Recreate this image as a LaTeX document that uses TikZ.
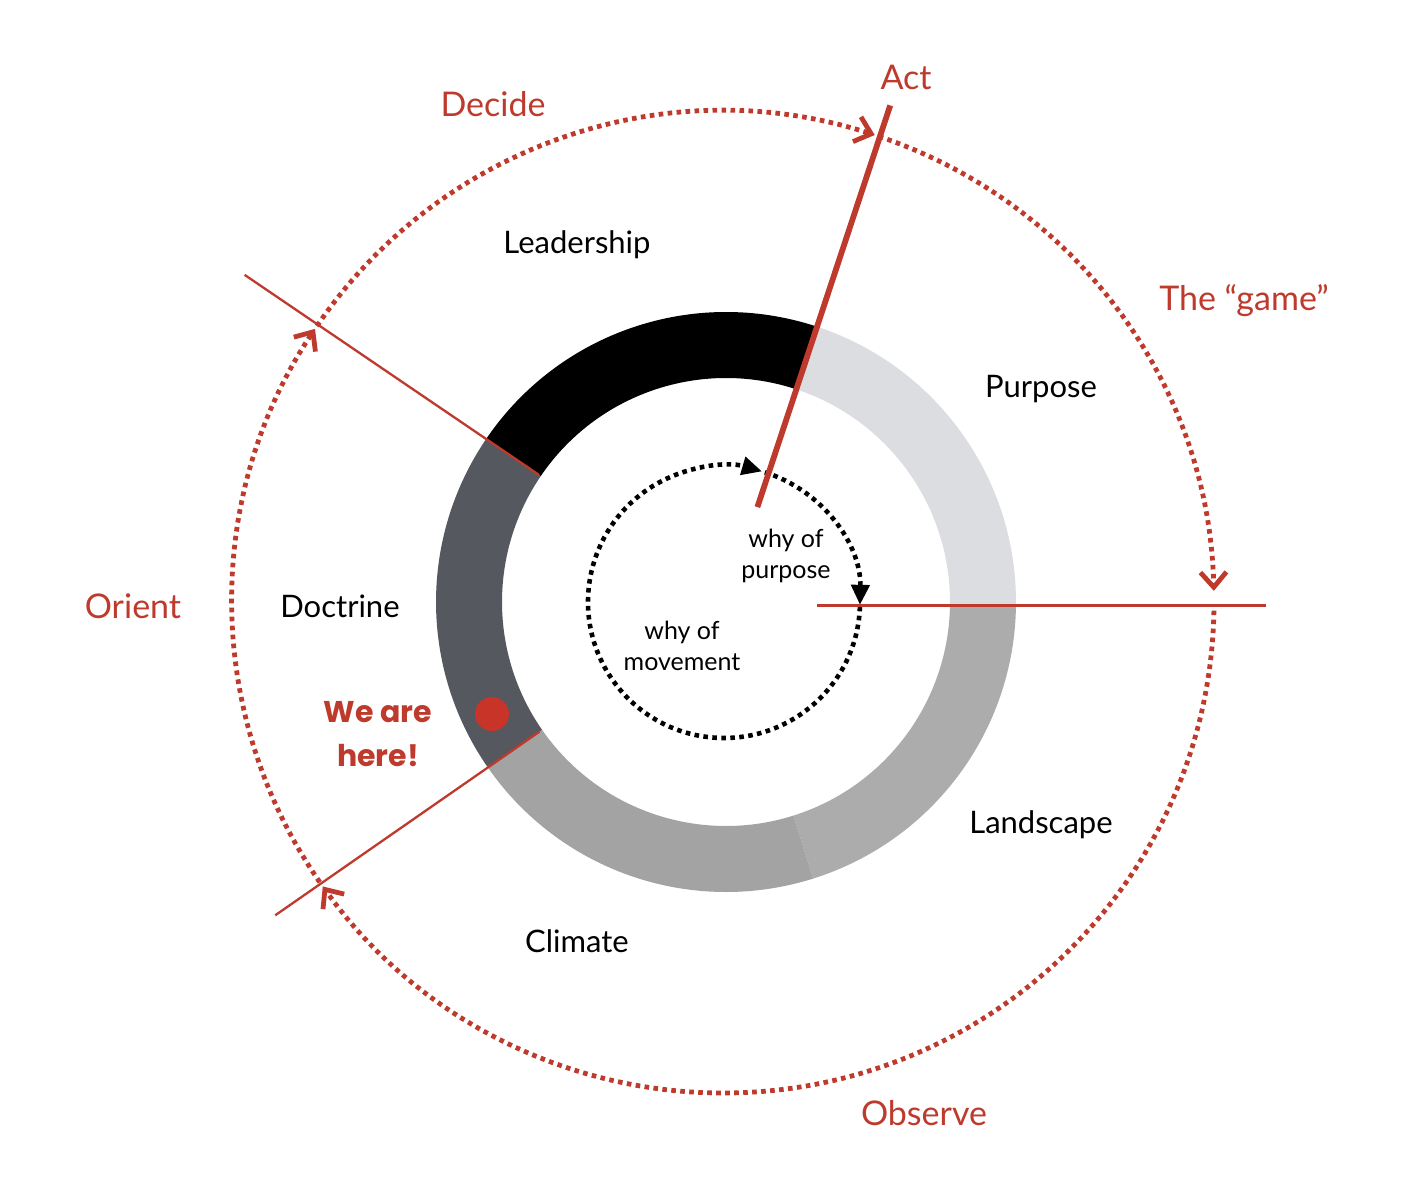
\documentclass[tikz,border=0pt]{standalone}
\usepackage{fontspec}
\setmainfont{Lato}
\newfontfamily\comicfont{Poppins}
\usetikzlibrary{arrows.meta}
\definecolor{rred}{RGB}{190,58,45}
\definecolor{dotred}{RGB}{200,52,40}
\definecolor{cpurpose}{RGB}{220,221,224}
\definecolor{clandscape}{RGB}{172,172,172}
\definecolor{cclimate}{RGB}{163,163,163}
\definecolor{cdoctrine}{RGB}{85,88,94}
\newcommand\ringseg[3]{\fill[#3] (#1:290) arc[start angle=#1,end angle=#2,radius=290] -- (#2:224) arc[start angle=#2,end angle=#1,radius=224] -- cycle;}
\begin{document}
\begin{tikzpicture}[x=0.5pt,y=0.5pt,
  redlbl/.style={text=rred, font=\fontsize{17}{20}\selectfont, inner sep=0pt},
  blklbl/.style={text=black, font=\fontsize{15.5}{18}\selectfont, inner sep=0pt},
  smalllbl/.style={text=black, font=\fontsize{12.5}{15.5}\selectfont, align=center, inner sep=0pt},
  herelbl/.style={text=rred, font=\comicfont\bfseries\fontsize{15}{22}\selectfont, align=center, inner sep=0pt},
  outerdots/.style={draw=rred, line width=2.4pt, dash pattern=on 2.3pt off 2.2pt, -{Straight Barb[length=7.5pt,width=13pt,line width=2.4pt]}},
  innerdots/.style={draw=black, line width=2.3pt, dash pattern=on 2.3pt off 2.2pt, -{Triangle[length=10pt,width=9pt]}},
  thinred/.style={draw=rred, line width=1.15pt},
  actline/.style={draw=rred, line width=2.9pt},
]
\useasboundingbox (-726,-586) rectangle (692,602);
% ring segments
\ringseg{71.7}{145.8}{black}
\ringseg{-0.7}{71.7}{cpurpose}
\ringseg{-72.5}{-0.7}{clandscape}
\ringseg{-145.2}{-72.5}{cclimate}
\ringseg{145.8}{214.8}{cdoctrine}
% outer dotted cycle
\draw[outerdots] ([shift={(-3,0)}]214.8:491) arc[start angle=214.8,end angle=146.2,radius=491];
\draw[outerdots] ([shift={(-3,0)}]145.8:491) arc[start angle=145.8,end angle=72.0,radius=491];
\draw[outerdots] ([shift={(-3,0)}]71.5:491) arc[start angle=71.5,end angle=1.3,radius=491];
\draw[outerdots] ([shift={(-3,0)}]-1:491) arc[start angle=-1,end angle=-144.6,radius=491];
% inner dotted cycle
\draw[innerdots] ([shift={(-2,0)}]72.5:136) arc[start angle=72.5,end angle=-1.2,radius=136];
\draw[innerdots] ([shift={(-2,0)}]-2:136) arc[start angle=-2,end angle=-286.2,radius=136];
% lines
\coordinate (l1a) at (145.8:226);
\coordinate (l1b) at (145.8:582);
\coordinate (l2a) at (-145.2:227);
\coordinate (l2b) at (-145.2:549);
\coordinate (acta) at (71.7:100);
\coordinate (actb) at (71.7:523);
\coordinate (ha) at (91,-3.5);
\coordinate (hb) at (540,-3.5);
\draw[thinred] (l1a) -- (l1b);
\draw[thinred] (l2a) -- (l2b);
\draw[thinred] (ha) -- (hb);
\draw[actline] (acta) -- (actb);
% red dot
\fill[dotred] (-234,-112) circle[radius=17];
% labels
\node[redlbl] (act) at (180,525) {Act};
\node[redlbl] (decide) at (-233,498) {Decide};
\node[redlbl] (game) at (518,301) {The “game”};
\node[redlbl] (orient) at (-593,-4) {Orient};
\node[redlbl] (observe) at (198,-511) {Observe};
\node[blklbl] (leadership) at (-149,357) {Leadership};
\node[blklbl] (purpose) at (315,213) {Purpose};
\node[blklbl] (doctrine) at (-386,-4) {Doctrine};
\node[blklbl] (landscape) at (315,-223) {Landscape};
\node[blklbl] (climate) at (-149,-339) {Climate};
\node[smalllbl] (whyp) at (60,46) {why of\\purpose};
\node[smalllbl] (whym) at (-44,-44) {why of\\movement};
\node[herelbl] (here) at (-348,-132) {We are\\here!};
\end{tikzpicture}
\end{document}
